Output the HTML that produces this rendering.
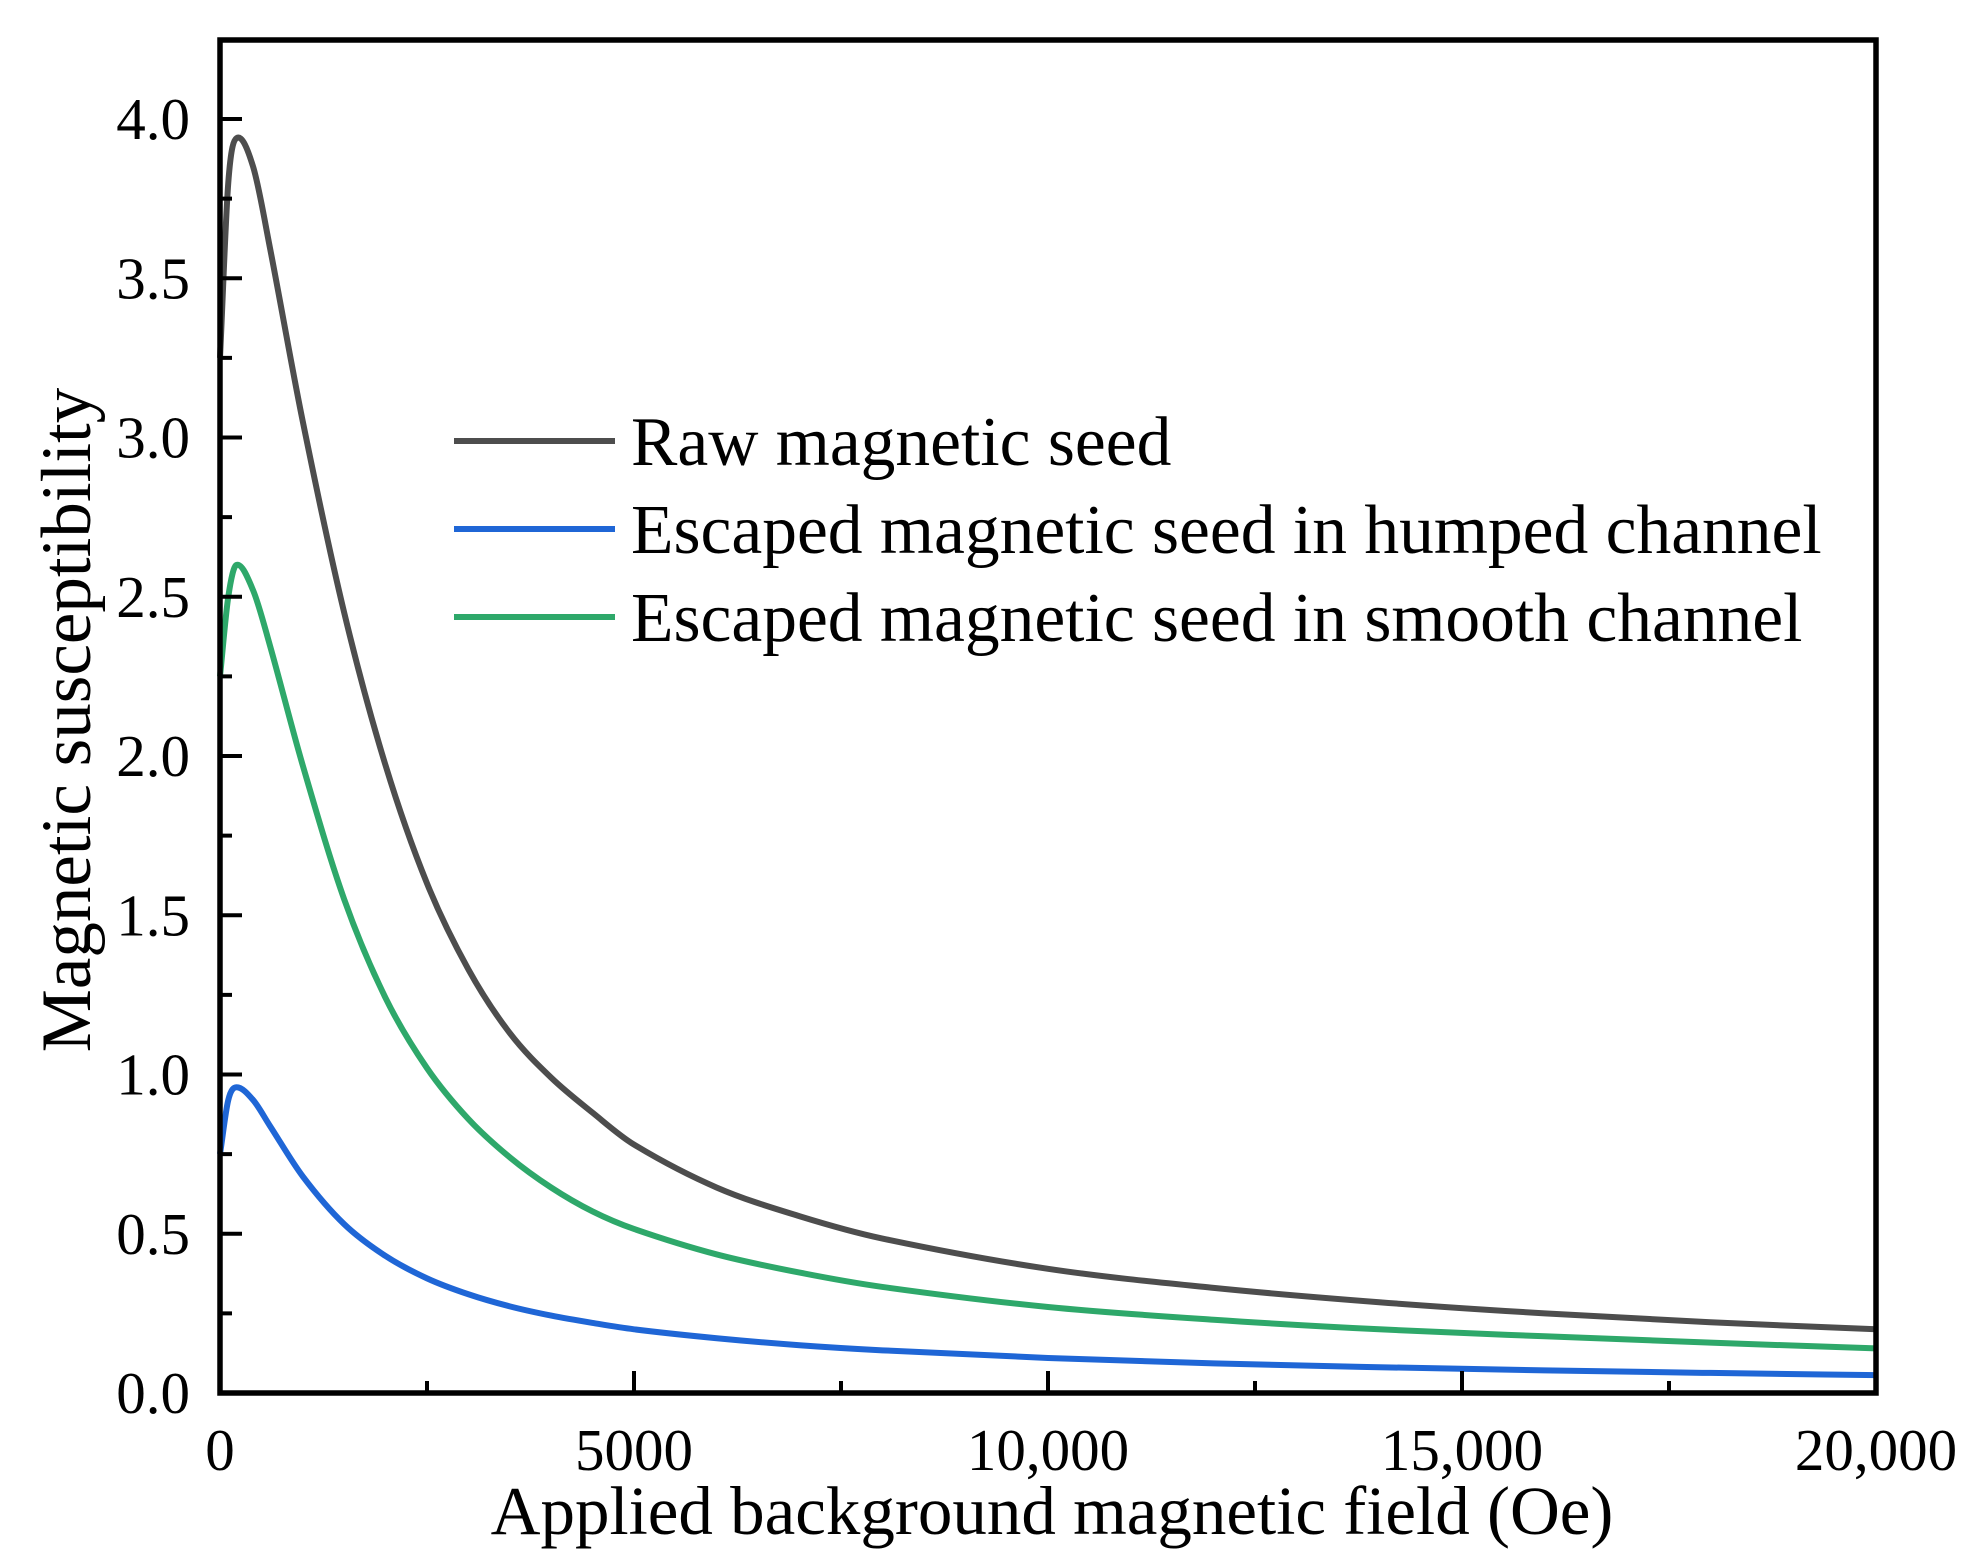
<!DOCTYPE html>
<html><head><meta charset="utf-8"><style>
html,body{margin:0;padding:0;background:#fff;}
svg{display:block;font-family:"Liberation Serif",serif;}
</style></head><body>
<svg id="chart" width="1981" height="1568" viewBox="0 0 1981 1568" xmlns="http://www.w3.org/2000/svg">
<g id="marks"></g>
<g id="axes"></g>
<text x="1052" y="1534" font-size="69" text-anchor="middle">Applied background magnetic field (Oe)</text>
<text transform="translate(90,720) rotate(-90)" font-size="71" text-anchor="middle">Magnetic susceptibility</text>
<g>
<line x1="454" y1="441" x2="615" y2="441" stroke="#4d4d4d" stroke-width="6"/>
<text x="631" y="465" font-size="69.5">Raw magnetic seed</text>
<line x1="454" y1="529" x2="615" y2="529" stroke="#1f66d6" stroke-width="6"/>
<text x="631" y="553" font-size="69.5">Escaped magnetic seed in humped channel</text>
<line x1="454" y1="617" x2="615" y2="617" stroke="#2ea86a" stroke-width="6"/>
<text x="631" y="641" font-size="69.5">Escaped magnetic seed in smooth channel</text>
</g>
</svg>
<script>
const fieldX = [0,100,200,400,600,1000,1500,2000,2500,3000,3500,4000,4500,5000,6000,7000,8000,10000,12000,14000,16000,18000,20000];
const rawSeed = [3.25,3.8,3.94,3.85,3.6,3.05,2.45,1.97,1.6,1.33,1.13,0.99,0.88,0.78,0.645,0.555,0.485,0.39,0.33,0.285,0.25,0.222,0.2];
const smoothSeed = [2.25,2.5,2.6,2.52,2.35,1.97,1.55,1.24,1.02,0.86,0.74,0.645,0.57,0.515,0.435,0.378,0.333,0.27,0.23,0.2,0.178,0.158,0.14];
const humpedSeed = [0.75,0.92,0.96,0.92,0.84,0.68,0.53,0.43,0.36,0.31,0.272,0.243,0.22,0.2,0.172,0.15,0.134,0.11,0.093,0.081,0.071,0.063,0.056];
const xTicks = [0,5000,10000,15000,20000];
const xTickLabels = ["0","5000","10,000","15,000","20,000"];
const yTicks = [0,0.5,1,1.5,2,2.5,3,3.5,4];
const yTickLabels = ["0.0","0.5","1.0","1.5","2.0","2.5","3.0","3.5","4.0"];

const L=220,R=1876,T=40,B=1393;
const sx=v=>L+(v-0)/(20000-0)*(R-L);
const sy=v=>B-(v/4)*(B-119);
const NS="http://www.w3.org/2000/svg";
const marks=document.getElementById('marks'), axes=document.getElementById('axes');
function mk(tag,attrs,parent){const e=document.createElementNS(NS,tag);for(const k in attrs)e.setAttribute(k,attrs[k]);parent.appendChild(e);return e;}
function pathFor(xs,ys){
  const n=xs.length, m=[];
  for(let i=0;i<n;i++){
    const a=Math.max(0,i-1), b=Math.min(n-1,i+1);
    m.push((ys[b]-ys[a])/(xs[b]-xs[a]));
  }
  let d=`M${sx(xs[0])},${sy(ys[0])}`;
  for(let i=0;i<n-1;i++){
    const h=xs[i+1]-xs[i];
    const c1x=xs[i]+h/3, c1y=ys[i]+m[i]*h/3;
    const c2x=xs[i+1]-h/3, c2y=ys[i+1]-m[i+1]*h/3;
    d+=` C${sx(c1x)},${sy(c1y)} ${sx(c2x)},${sy(c2y)} ${sx(xs[i+1])},${sy(ys[i+1])}`;
  }
  return d;
}
const series=[["raw-seed-line",rawSeed,"#4d4d4d"],["smooth-channel-line",smoothSeed,"#2ea86a"],["humped-channel-line",humpedSeed,"#1f66d6"]];
for(const [n,ys,c] of series){
  const el=mk('path',{d:pathFor(fieldX,ys),fill:'none',stroke:c,'stroke-width':6,'stroke-linejoin':'round'},marks);
  
  
}
const fr=mk('rect',{x:L,y:T,width:R-L,height:B-T,fill:'none',stroke:'#000','stroke-width':5.5},axes);


for(let v=0;v<=20000;v+=2500){
  const major=v%5000===0;
  const t=mk('line',{x1:sx(v),x2:sx(v),y1:B,y2:B-(major?22:12),stroke:'#000','stroke-width':4},axes);
  
  
}
xTicks.forEach((v,i)=>{
  const t=mk('text',{x:sx(v),y:1470,'font-size':59,'text-anchor':'middle'},axes);
  t.textContent=xTickLabels[i];
  
  
});
for(let v=0;v<=4.001;v+=0.25){
  const major=Math.abs(v*2-Math.round(v*2))<1e-6;
  const t=mk('line',{x1:L,x2:L+(major?22:12),y1:sy(v),y2:sy(v),stroke:'#000','stroke-width':4},axes);
  
  
}
yTicks.forEach((v,i)=>{
  const t=mk('text',{x:190,y:sy(v)+20,'font-size':59,'text-anchor':'end'},axes);
  t.textContent=yTickLabels[i];
  
  
});
</script>
</body></html>
